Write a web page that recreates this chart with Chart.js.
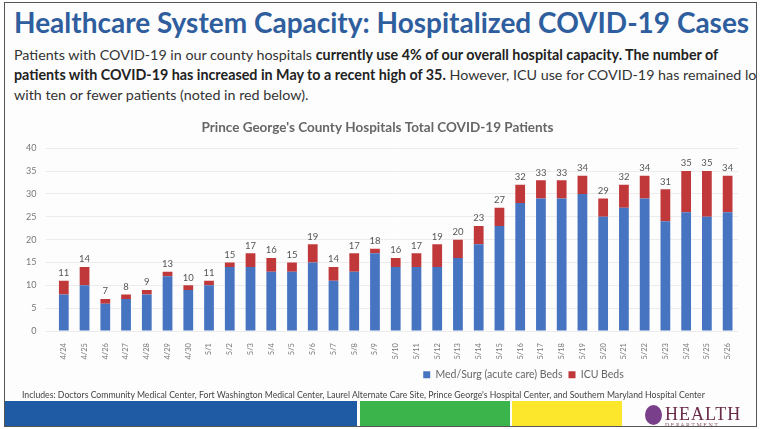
<!DOCTYPE html>
<html>
<head>
<meta charset="utf-8">
<script src="https://cdn.jsdelivr.net/npm/chart.js@4.4.1/dist/chart.umd.min.js"></script>
<style>
  html, body { margin: 0; padding: 0; background: #fff; }
  body { width: 775px; height: 429px; overflow: hidden; position: relative; font-family: Lato, "Open Sans", sans-serif; }
  #frame { position: absolute; left: 4px; top: 2px; width: 751px; height: 423px; border: 1.5px solid #555; overflow: hidden; background: #fdfdfd; }
  h1 { position: absolute; left: 9px; top: 2px; margin: 0; white-space: nowrap; font-size: 28px; font-weight: 700; color: #2f5e9e; }
  #intro { position: absolute; left: 9px; top: 42px; width: 900px; margin: 0; font-size: 14.3px; line-height: 20px; color: #333; white-space: nowrap; }
  #intro b { color: #222; }
  #chartBox { position: absolute; left: 12px; top: 109px; width: 735px; height: 278px; }
  #note { position: absolute; left: 17px; top: 386px; font-size: 8.7px; color: #444; white-space: nowrap; }
  .band { position: absolute; top: 398px; height: 27px; }
  #logo { position: absolute; left: 660px; top: 401px; font-family: "Liberation Serif", serif; font-size: 18px; color: #6a2b4a; letter-spacing: 1px; }
  #logo span { display: block; font-size: 6px; color: #8a5a6a; letter-spacing: 1.5px; margin-top: -3px; }
  #seal { position: absolute; left: 640px; top: 402px; width: 17px; height: 20px; border-radius: 50%; background: #7a3f8a; }
</style>
</head>
<body>
<div id="frame">
  <h1>Healthcare System Capacity: Hospitalized COVID-19 Cases</h1>
  <p id="intro">Patients with COVID-19 in our county hospitals <b>currently use 4% of our overall hospital capacity. The number of<br>patients with COVID-19 has increased in May to a recent high of 35.</b> However, ICU use for COVID-19 has remained low<br>with ten or fewer patients (noted in red below).</p>
  <div id="chartBox"><canvas id="chart"></canvas></div>
  <div id="note">Includes: Doctors Community Medical Center, Fort Washington Medical Center, Laurel Alternate Care Site, Prince George's Hospital Center, and Southern Maryland Hospital Center</div>
  <div class="band" style="left:0;width:352px;background:#1f5aa5"></div>
  <div class="band" style="left:355px;width:150px;background:#3bb44b"></div>
  <div class="band" style="left:507px;width:110px;background:#fde72c"></div>
  <div id="seal"></div>
  <div id="logo">HEALTH<span>DEPARTMENT</span></div>
</div>
<script>
const dates = ['4/24','4/25','4/26','4/27','4/28','4/29','4/30','5/1','5/2','5/3','5/4','5/5','5/6','5/7','5/8','5/9','5/10',
  '5/11','5/12','5/13','5/14','5/15','5/16','5/17','5/18','5/19','5/20','5/21','5/22','5/23','5/24','5/25','5/26'];
const medSurg = [8,10,6,7,8,12,9,10,14,14,13,13,15,11,13,17,14,14,14,16,19,23,28,29,29,30,25,27,29,24,26,25,26];
const icu     = [3,4,1,1,1,1,1,1,1,3,3,2,4,3,4,1,2,3,5,4,4,4,4,4,4,4,4,5,5,7,9,10,8];
const yTicks = [0,5,10,15,20,25,30,35,40];

// totals printed above each stacked bar
const totalLabels = {
  id: 'totalLabels',
  afterDatasetsDraw(chart) {
    const ctx = chart.ctx;
    const y = chart.scales.y;
    const meta = chart.getDatasetMeta(1);
    ctx.save();
    ctx.font = '9.5px Lato, sans-serif';
    ctx.fillStyle = '#555';
    ctx.textAlign = 'center';
    ctx.textBaseline = 'bottom';
    meta.data.forEach((bar, i) => {
      const total = medSurg[i] + icu[i];
      ctx.fillText(total, bar.x, y.getPixelForValue(total) - 3);
    });
    ctx.restore();
  }
};

// legend sits right of centre in the original
const shiftLegend = {
  id: 'shiftLegend',
  afterLayout(chart) {
    chart.legend.left += 146;
    chart.legend.right += 146;
  }
};

new Chart(document.getElementById('chart'), {
  type: 'bar',
  data: {
    labels: dates,
    datasets: [
      { label: 'Med/Surg (acute care) Beds', data: medSurg, backgroundColor: '#4674c1', barPercentage: 0.47, categoryPercentage: 1 },
      { label: 'ICU Beds', data: icu, backgroundColor: '#c1383a', barPercentage: 0.47, categoryPercentage: 1 }
    ]
  },
  options: {
    responsive: true,
    maintainAspectRatio: false,
    animation: false,
    layout: { padding: { left: 0, right: 14, top: 0, bottom: 0 } },
    plugins: {
      title: {
        display: true,
        text: "Prince George's County Hospitals Total COVID-19 Patients",
        color: '#666',
        font: { family: 'Lato', size: 13.5, weight: 'bold' },
        padding: { top: 8, bottom: 12 }
      },
      legend: {
        position: 'bottom',
        align: 'center',
        labels: { boxWidth: 7, boxHeight: 7, color: '#666', font: { family: 'Lato', size: 10.5 }, padding: 6 }
      },
      tooltip: { enabled: false }
    },
    scales: {
      x: {
        stacked: true,
        grid: { display: false },
        border: { display: false },
        ticks: { color: '#777', font: { family: 'Lato', size: 7.5 }, minRotation: 90, maxRotation: 90, padding: 4 }
      },
      y: {
        stacked: true,
        min: 0,
        max: 40,
        afterBuildTicks: (axis) => { axis.ticks = yTicks.map(v => ({ value: v })); },
        grid: { color: '#ececec' },
        border: { display: false },
        ticks: { color: '#777', font: { family: 'Lato', size: 9 }, padding: 9 }
      }
    }
  },
  plugins: [totalLabels, shiftLegend]
});
</script>
</body>
</html>
